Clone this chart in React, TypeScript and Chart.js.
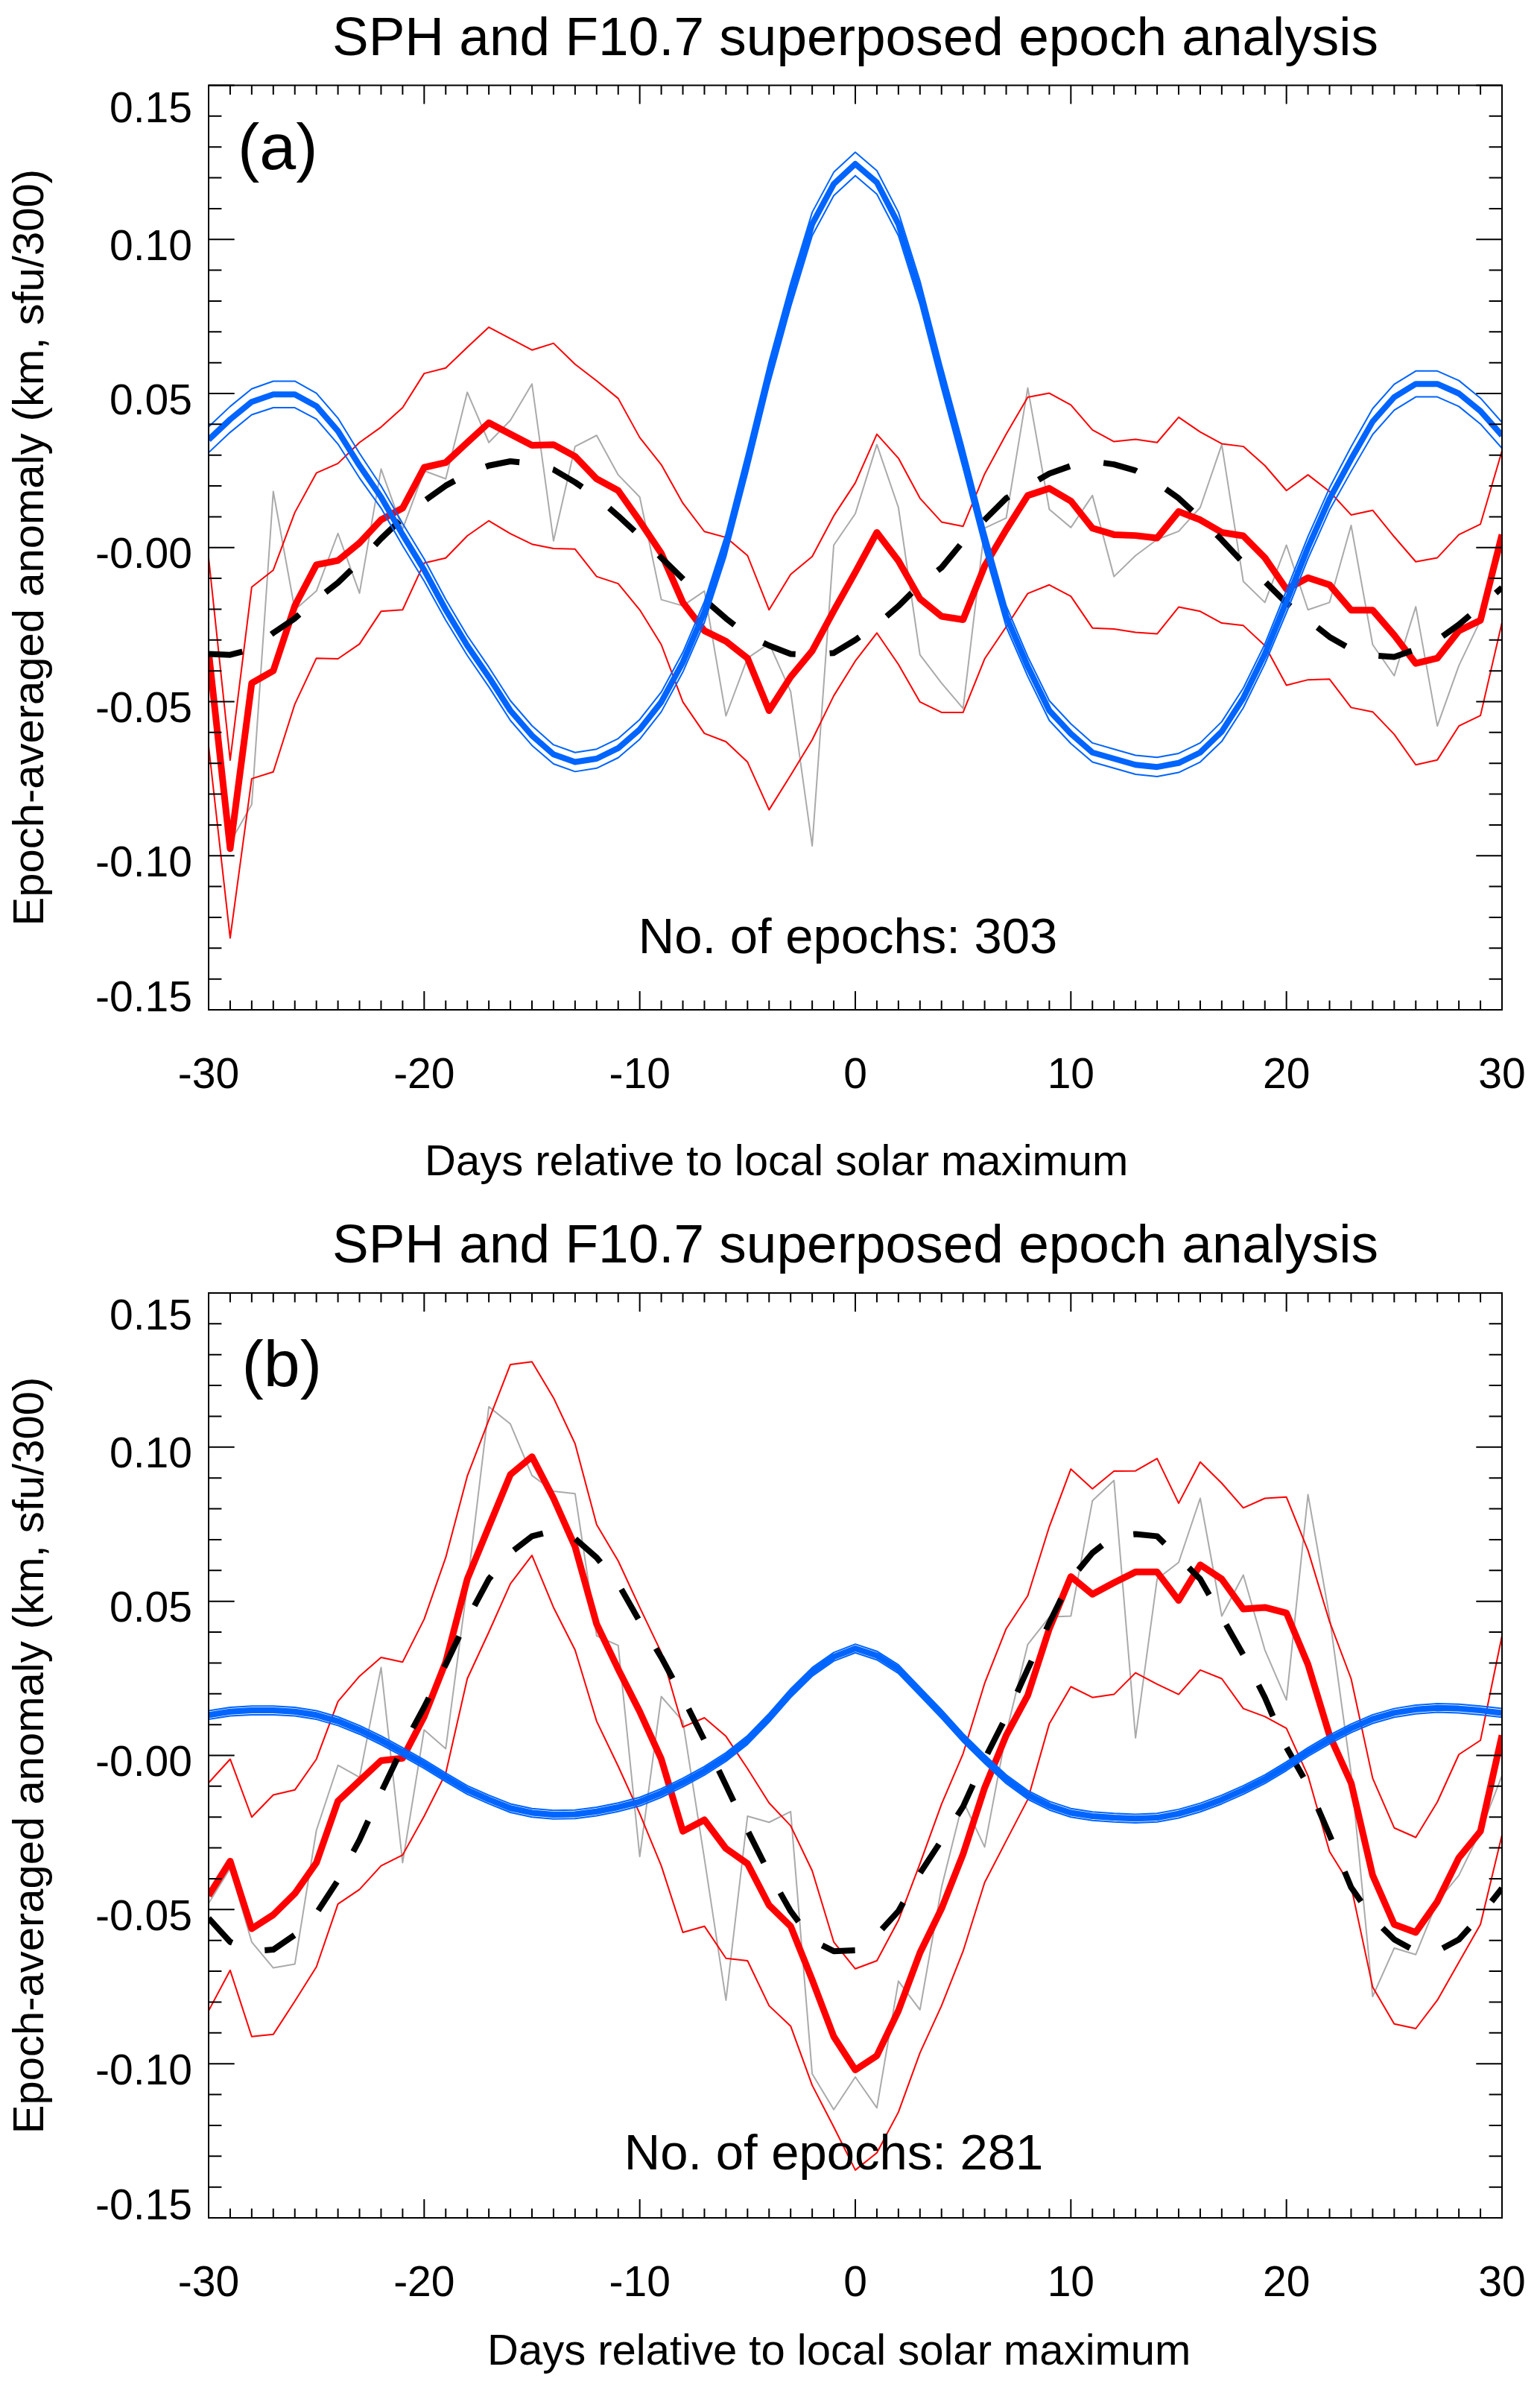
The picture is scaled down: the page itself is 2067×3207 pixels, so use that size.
import { useEffect, useRef } from "react"
import Chart from "chart.js/auto"

// days relative to local solar maximum
const days = [
  -30, -29, -28, -27, -26, -25, -24, -23, -22, -21, -20, -19, -18, -17, -16, -15, -14, -13, -12, -11,
  -10, -9, -8, -7, -6, -5, -4, -3, -2, -1, 0, 1, 2, 3, 4, 5, 6, 7, 8, 9,
  10, 11, 12, 13, 14, 15, 16, 17, 18, 19, 20, 21, 22, 23, 24, 25, 26, 27, 28, 29, 30,
]

const xTickValues = [-30, -20, -10, 0, 10, 20, 30]
const xTickLabels = ["-30", "-20", "-10", "0", "10", "20", "30"]
const yTickValues = [0.15, 0.1, 0.05, 0, -0.05, -0.1, -0.15]
const yTickLabels = ["0.15", "0.10", "0.05", "-0.00", "-0.05", "-0.10", "-0.15"]

// ---- panel (a) ----
const f107A = [
  0.035, 0.0416, 0.0473, 0.0497, 0.0497, 0.0459, 0.0378, 0.0266, 0.0164, 0.0042,
  -0.0073, -0.0202, -0.0318, -0.042, -0.0529, -0.061, -0.0671, -0.0696, -0.0685, -0.0651,
  -0.059, -0.0501, -0.0372, -0.0209, 0.0008, 0.028, 0.0565, 0.082, 0.105, 0.118,
  0.1245,
  0.1185, 0.105, 0.0827, 0.0556, 0.0296, 0.0025, -0.0223, -0.0386, -0.0529, -0.0604,
  -0.0665, -0.0685, -0.0705, -0.0712, -0.0699, -0.0665, -0.0597, -0.0488, -0.0345, -0.0175,
  0.0, 0.0158, 0.0287, 0.0409, 0.0488, 0.0531, 0.0531, 0.05, 0.0443, 0.0364,
]
const f107AUpper = [
  0.0392, 0.0458, 0.0515, 0.054, 0.054, 0.0501, 0.042, 0.0306, 0.02, 0.0078,
  -0.0037, -0.0168, -0.0286, -0.0388, -0.0497, -0.0578, -0.064, -0.0665, -0.0654, -0.062,
  -0.0558, -0.0469, -0.034, -0.0175, 0.0044, 0.0318, 0.0603, 0.0858, 0.1088, 0.1218,
  0.1283,
  0.1223, 0.1088, 0.0865, 0.0594, 0.0334, 0.0061, -0.0189, -0.0354, -0.0497, -0.0572,
  -0.0634, -0.0654, -0.0674, -0.0681, -0.0668, -0.0634, -0.0565, -0.0456, -0.0313, -0.0139,
  0.0036, 0.0194, 0.0327, 0.0451, 0.053, 0.0573, 0.0573, 0.0542, 0.0485, 0.0406,
]
const f107ALower = [
  0.0308, 0.0374, 0.0431, 0.0454, 0.0454, 0.0417, 0.0336, 0.0226, 0.0128, 0.0006,
  -0.0109, -0.0236, -0.035, -0.0452, -0.0561, -0.0642, -0.0702, -0.0727, -0.0716, -0.0682,
  -0.0622, -0.0533, -0.0404, -0.0243, -0.0028, 0.0242, 0.0527, 0.0782, 0.1012, 0.1142,
  0.1207,
  0.1147, 0.1012, 0.0789, 0.0518, 0.0258, -0.0011, -0.0257, -0.0418, -0.0561, -0.0636,
  -0.0696, -0.0716, -0.0736, -0.0743, -0.073, -0.0696, -0.0629, -0.052, -0.0377, -0.0211,
  -0.0036, 0.0122, 0.0247, 0.0367, 0.0446, 0.0489, 0.0489, 0.0458, 0.0401, 0.0322,
]
const sphA = [
  -0.0338, -0.0977, -0.044, -0.04, -0.0189, -0.0056, -0.0042, 0.0015, 0.009, 0.0128,
  0.026, 0.0276, 0.0341, 0.0405, 0.0368, 0.0332, 0.0334, 0.0296, 0.0223, 0.0185,
  0.0086, -0.0019, -0.0178, -0.027, -0.0304, -0.0359, -0.0529, -0.042, -0.0335, -0.0205,
  -0.008,
  0.0049, -0.0043, -0.0166, -0.0223, -0.0234, -0.006, 0.0058, 0.0169, 0.0192, 0.0151,
  0.0063, 0.0042, 0.0039, 0.0031, 0.0117, 0.009, 0.0049, 0.0038, -0.0033, -0.0135,
  -0.0098, -0.0121, -0.0203, -0.0203, -0.0284, -0.0376, -0.0359, -0.027, -0.0236, 0.0042,
]
const sphAUpper = [
  -0.0033, -0.069, -0.0128, -0.0073, 0.0114, 0.0242, 0.0273, 0.0341, 0.0391, 0.0454,
  0.0565, 0.0583, 0.065, 0.0715, 0.0678, 0.0641, 0.0663, 0.0595, 0.0541, 0.0484,
  0.0357, 0.0269, 0.0144, 0.0052, 0.0033, -0.0026, -0.0202, -0.0087, -0.0029, 0.0103,
  0.021,
  0.0368, 0.029, 0.016, 0.0083, 0.0069, 0.0239, 0.0368, 0.0488, 0.0501, 0.0463,
  0.0382, 0.0344, 0.0351, 0.0341, 0.0423, 0.0375, 0.0337, 0.0328, 0.0266, 0.0185,
  0.0236, 0.0182, 0.0106, 0.0121, 0.0035, -0.0046, -0.0033, 0.0042, 0.0076, 0.0314,
]
const sphALower = [
  -0.0644, -0.1267, -0.075, -0.0728, -0.0508, -0.0359, -0.0361, -0.0313, -0.0207, -0.0202,
  -0.005, -0.0034, 0.0038, 0.0087, 0.0045, 0.0011, -0.0003, -0.0005, -0.0094, -0.0117,
  -0.0202, -0.0315, -0.0501, -0.0603, -0.063, -0.0696, -0.0851, -0.0739, -0.0624, -0.0481,
  -0.0368,
  -0.0277, -0.0379, -0.0501, -0.0535, -0.0535, -0.0361, -0.0257, -0.0149, -0.0121, -0.0158,
  -0.0261, -0.0264, -0.0275, -0.028, -0.0193, -0.0207, -0.0245, -0.0253, -0.0318, -0.0447,
  -0.0429, -0.0427, -0.0519, -0.0533, -0.0606, -0.0705, -0.0689, -0.0579, -0.0545, -0.0243,
]
const sphARaw = [
  -0.035, -0.0957, -0.0834, 0.0182, -0.0202, -0.0141, 0.0046, -0.0148, 0.0255, 0.006,
  0.0249, 0.0223, 0.0504, 0.0341, 0.0413, 0.0531, 0.0022, 0.0328, 0.0364, 0.0236,
  0.0164, -0.0169, -0.0189, -0.0141, -0.0546, -0.0359, -0.0311, -0.0467, -0.0968, 0.0008,
  0.011,
  0.0334, 0.013, -0.0348, -0.044, -0.0522, 0.0063, 0.0096, 0.0518, 0.0124, 0.0065,
  0.0169, -0.0094, -0.0026, 0.0026, 0.0053, 0.013, 0.0334, -0.011, -0.0178, 0.0008,
  -0.0202, -0.0178, 0.0072, -0.0315, -0.0416, -0.0192, -0.0579, -0.0383, -0.0236, 0.0,
]
const sphAFit = [
  -0.0345, -0.0348, -0.033, -0.0277, -0.023, -0.0169, -0.0114, -0.0046, 0.0029, 0.0096,
  0.0151, 0.0201, 0.0239, 0.0266, 0.028, 0.0273, 0.0253, 0.0212, 0.0164, 0.0103,
  0.0038, -0.0033, -0.0101, -0.0169, -0.023, -0.0284, -0.0318, -0.0345, -0.0348, -0.0342,
  -0.03,
  -0.025, -0.019, -0.012, -0.0065, 0.002, 0.009, 0.016, 0.02, 0.024, 0.0265,
  0.028, 0.027, 0.025, 0.021, 0.016, 0.0095, 0.0025, -0.005, -0.011, -0.018,
  -0.0235, -0.029, -0.033, -0.035, -0.0355, -0.033, -0.03, -0.025, -0.019, -0.013,
]

// ---- panel (b) ----
const f107B = [
  0.0131, 0.0142, 0.0146, 0.0146, 0.0142, 0.0131, 0.0111, 0.0083, 0.0049, 0.0011,
  -0.0028, -0.0071, -0.0112, -0.0143, -0.0171, -0.0186, -0.0192, -0.0191, -0.0182, -0.0168,
  -0.015, -0.0122, -0.0088, -0.005, -0.0005, 0.005, 0.0122, 0.0202, 0.0271, 0.032,
  0.0347,
  0.0324, 0.028, 0.0207, 0.0134, 0.0057, -0.0012, -0.0077, -0.0128, -0.0163, -0.0186,
  -0.0197, -0.0202, -0.0205, -0.0202, -0.0189, -0.0169, -0.0143, -0.0112, -0.0077, -0.0035,
  0.0011, 0.0052, 0.0088, 0.0118, 0.0138, 0.0149, 0.0154, 0.0152, 0.0146, 0.0138,
]
const f107BUpper = [
  0.0145, 0.0156, 0.016, 0.016, 0.0156, 0.0145, 0.0125, 0.0097, 0.0063, 0.0025,
  -0.0014, -0.0057, -0.0098, -0.0129, -0.0157, -0.0172, -0.0178, -0.0177, -0.0168, -0.0154,
  -0.0136, -0.0108, -0.0074, -0.0036, 0.0009, 0.0064, 0.0136, 0.0216, 0.0285, 0.0334,
  0.0361,
  0.0338, 0.0294, 0.0221, 0.0148, 0.0071, 0.0002, -0.0063, -0.0114, -0.0149, -0.0172,
  -0.0183, -0.0188, -0.0191, -0.0188, -0.0175, -0.0155, -0.0129, -0.0098, -0.0063, -0.0021,
  0.0025, 0.0066, 0.0102, 0.0132, 0.0152, 0.0163, 0.0168, 0.0166, 0.016, 0.0152,
]
const f107BLower = [
  0.0117, 0.0128, 0.0132, 0.0132, 0.0128, 0.0117, 0.0097, 0.0069, 0.0035, -0.0003,
  -0.0042, -0.0085, -0.0126, -0.0157, -0.0185, -0.02, -0.0206, -0.0205, -0.0196, -0.0182,
  -0.0164, -0.0136, -0.0102, -0.0064, -0.0019, 0.0036, 0.0108, 0.0188, 0.0257, 0.0306,
  0.0333,
  0.031, 0.0266, 0.0193, 0.012, 0.0043, -0.0026, -0.0091, -0.0142, -0.0177, -0.02,
  -0.0211, -0.0216, -0.0219, -0.0216, -0.0203, -0.0183, -0.0157, -0.0126, -0.0091, -0.0049,
  -0.0003, 0.0038, 0.0074, 0.0104, 0.0124, 0.0135, 0.014, 0.0138, 0.0132, 0.0124,
]
const sphB = [
  -0.0455, -0.0343, -0.0562, -0.0517, -0.0448, -0.0348, -0.0148, -0.0082, -0.0017, -0.0009,
  0.0126, 0.0303, 0.0572, 0.0742, 0.0911, 0.0969, 0.0834, 0.0677, 0.0426, 0.028,
  0.0142, -0.0012, -0.0246, -0.0209, -0.0302, -0.0351, -0.0486, -0.0554, -0.0728, -0.0912,
  -0.102,
  -0.0974, -0.0828, -0.064, -0.0497, -0.032, -0.0105, 0.0065, 0.0195, 0.0411, 0.058,
  0.0523, 0.056, 0.0595, 0.0595, 0.0503, 0.0618, 0.0572, 0.0475, 0.048, 0.0462,
  0.0295, 0.0065, -0.0089, -0.0389, -0.0548, -0.0574, -0.0474, -0.0332, -0.0246, 0.0065,
]
const sphBUpper = [
  -0.0089, -0.0012, -0.02, -0.0128, -0.0112, -0.0012, 0.0175, 0.0257, 0.0318, 0.0303,
  0.0442, 0.0642, 0.0906, 0.1088, 0.1268, 0.1277, 0.116, 0.1011, 0.0749, 0.0631,
  0.048, 0.0334, 0.0092, 0.0122, 0.0062, -0.0043, -0.0154, -0.0228, -0.0374, -0.0605,
  -0.0692,
  -0.0666, -0.0535, -0.0351, -0.0158, 0.0006, 0.0234, 0.0411, 0.0518, 0.0742, 0.0929,
  0.0865, 0.0922, 0.0923, 0.0963, 0.0818, 0.0952, 0.0883, 0.0803, 0.0834, 0.0838,
  0.0665, 0.0434, 0.0249, -0.0074, -0.0235, -0.0266, -0.0151, 0.0003, 0.0049, 0.0388,
]
const sphBLower = [
  -0.0828, -0.0697, -0.0912, -0.0905, -0.0797, -0.0686, -0.0482, -0.0435, -0.0358, -0.0323,
  -0.0197, -0.0058, 0.0249, 0.04, 0.0557, 0.0649, 0.048, 0.0342, 0.0111, -0.0035,
  -0.0189, -0.0358, -0.0574, -0.0554, -0.0658, -0.0666, -0.0812, -0.0878, -0.107, -0.1205,
  -0.1345,
  -0.1289, -0.1157, -0.0965, -0.0812, -0.0635, -0.0412, -0.0277, -0.0143, 0.0103, 0.0223,
  0.0188, 0.0198, 0.0268, 0.0231, 0.0198, 0.0277, 0.0249, 0.0152, 0.0126, 0.0088,
  -0.0066, -0.0312, -0.0425, -0.0751, -0.0871, -0.0886, -0.0794, -0.0671, -0.0548, -0.0258,
]
const sphBRaw = [
  -0.048, -0.0366, -0.0605, -0.0689, -0.0677, -0.0243, -0.0032, -0.0071, 0.0285, -0.0348,
  0.0083, 0.0022, 0.055, 0.1131, 0.1075, 0.0908, 0.0857, 0.0849, 0.0388, 0.0357,
  -0.0328, 0.0191, 0.0111, -0.0335, -0.0794, -0.0197, -0.0217, -0.0182, -0.1033, -0.1149,
  -0.1043,
  -0.1143, -0.0732, -0.0825, -0.0428, -0.0148, -0.0297, 0.0072, 0.036, 0.0449, 0.0452,
  0.0826, 0.0892, 0.0057, 0.0572, 0.0626, 0.0834, 0.0452, 0.0585, 0.0342, 0.018,
  0.0846, 0.0449, -0.0058, -0.0782, -0.0625, -0.0646, -0.0474, -0.0389, -0.0246, -0.0065,
]
const sphBFit = [
  -0.0528, -0.0605, -0.0635, -0.063, -0.0582, -0.0512, -0.0405, -0.0274, -0.012, 0.0026,
  0.0157, 0.0295, 0.0442, 0.0572, 0.0657, 0.0711, 0.0729, 0.0703, 0.0642, 0.0557,
  0.0434, 0.0318, 0.0188, 0.0049, -0.0097, -0.0243, -0.0382, -0.0505, -0.06, -0.0635,
  -0.0632,
  -0.0582, -0.0505, -0.0382, -0.0275, -0.0166, -0.0012, 0.0126, 0.028, 0.043, 0.0572,
  0.0657, 0.0711, 0.0718, 0.0711, 0.0642, 0.0572, 0.0449, 0.0326, 0.0188, 0.0026,
  -0.0097, -0.0258, -0.0428, -0.0528, -0.0597, -0.0635, -0.0635, -0.0597, -0.052, -0.0431,
]

const TITLE = "SPH and F10.7 superposed epoch analysis"
const X_TITLE = "Days relative to local solar maximum"
const Y_TITLE = "Epoch-averaged anomaly (km, sfu/300)"

const RED = "#ff0000"
const BLUE = "#0064ff"
const GRAY = "#aaaaaa"
const FONT = '"Liberation Sans", Arial, Helvetica, sans-serif'

type PanelProps = {
  height: number
  padTop: number
  padBottom: number
  label: string
  labelX: number
  labelY: number
  epochs: string
  epochsX: number
  epochsY: number
  xTitleX: number
  xTitleY: number
  f107: number[]
  f107Upper: number[]
  f107Lower: number[]
  sph: number[]
  sphUpper: number[]
  sphLower: number[]
  sphRaw: number[]
  sphFit: number[]
}

// IDL-style frame: inward ticks on all four sides, labels and annotations
const idlFrame = {
  id: "idlFrame",
  afterDraw(chart: any, _args: any, opts: any) {
    const { ctx, chartArea, scales } = chart
    const xs = scales.x
    const ys = scales.y
    const { left, right, top, bottom } = chartArea
    ctx.save()
    ctx.strokeStyle = "#000"
    ctx.fillStyle = "#000"
    ctx.lineWidth = 2
    ctx.lineCap = "butt"
    ctx.strokeRect(left, top, right - left, bottom - top)

    ctx.beginPath()
    for (const d of days) {
      const px = xs.getPixelForValue(d)
      const len = d % 10 === 0 ? 25 : 12.5
      ctx.moveTo(px, bottom)
      ctx.lineTo(px, bottom - len)
      ctx.moveTo(px, top)
      ctx.lineTo(px, top + len)
    }
    for (let i = -15; i <= 15; i++) {
      const py = ys.getPixelForValue(i / 100)
      const len = i % 5 === 0 ? 34.7 : 17.4
      ctx.moveTo(left, py)
      ctx.lineTo(left + len, py)
      ctx.moveTo(right, py)
      ctx.lineTo(right - len, py)
    }
    ctx.stroke()

    ctx.textBaseline = "alphabetic"
    ctx.font = `57px ${FONT}`
    ctx.textAlign = "center"
    xTickValues.forEach((v, i) => {
      ctx.fillText(xTickLabels[i], xs.getPixelForValue(v), bottom + 105)
    })
    ctx.textAlign = "right"
    yTickValues.forEach((v, i) => {
      const py = ys.getPixelForValue(v)
      let off = 27.6
      if (i === 0) off = 49
      if (i === yTickValues.length - 1) off = 1.5
      ctx.fillText(yTickLabels[i], 258, py + off)
    })

    ctx.font = `73px ${FONT}`
    ctx.textAlign = "center"
    ctx.fillText(TITLE, (left + right) / 2, top - 41)

    ctx.font = `58px ${FONT}`
    ctx.textAlign = "left"
    ctx.fillText(X_TITLE, opts.xTitleX, opts.xTitleY)

    ctx.save()
    ctx.translate(58, (top + bottom) / 2)
    ctx.rotate(-Math.PI / 2)
    ctx.textAlign = "center"
    ctx.fillText(Y_TITLE, 0, 0)
    ctx.restore()

    ctx.font = `88px ${FONT}`
    ctx.textAlign = "left"
    ctx.fillText(opts.label, opts.labelX, opts.labelY)

    ctx.font = `67px ${FONT}`
    ctx.textAlign = "center"
    ctx.fillText(opts.epochs, opts.epochsX, opts.epochsY)
    ctx.restore()
  },
}

function series(values: number[], color: string, width: number, order: number, dash: number[] = []) {
  return {
    data: days.map((d, i) => ({ x: d, y: values[i] })),
    borderColor: color,
    borderWidth: width,
    borderDash: dash,
    borderJoinStyle: "round" as const,
    pointRadius: 0,
    tension: 0,
    fill: false,
    order,
  }
}

function EpochPanel(p: PanelProps) {
  const canvasRef = useRef<HTMLCanvasElement>(null)

  useEffect(() => {
    if (!canvasRef.current) return
    const chart = new Chart(canvasRef.current, {
      type: "line",
      data: {
        datasets: [
          series(p.f107, BLUE, 8, 0),
          series(p.f107Upper, BLUE, 2, 1),
          series(p.f107Lower, BLUE, 2, 1),
          series(p.sphFit, "#000000", 8, 2, [46, 46]),
          series(p.sph, RED, 9, 3),
          series(p.sphUpper, RED, 2, 4),
          series(p.sphLower, RED, 2, 4),
          series(p.sphRaw, GRAY, 2, 5),
        ],
      },
      options: {
        responsive: false,
        animation: false,
        devicePixelRatio: 1,
        layout: { padding: { left: 280, right: 51, top: p.padTop, bottom: p.padBottom } },
        scales: {
          x: { type: "linear", min: -30, max: 30, display: false },
          y: { type: "linear", min: -0.15, max: 0.15, display: false },
        },
        plugins: {
          legend: { display: false },
          tooltip: { enabled: false },
          idlFrame: {
            label: p.label,
            labelX: p.labelX,
            labelY: p.labelY,
            epochs: p.epochs,
            epochsX: p.epochsX,
            epochsY: p.epochsY,
            xTitleX: p.xTitleX,
            xTitleY: p.xTitleY,
          },
        } as any,
      },
      plugins: [idlFrame],
    })
    return () => chart.destroy()
  }, [])

  return (
    <canvas
      ref={canvasRef}
      width={2067}
      height={p.height}
      style={{ display: "block", width: 2067, height: p.height }}
    />
  )
}

export default function App() {
  useEffect(() => {
    document.body.style.margin = "0"
  }, [])

  return (
    <div style={{ position: "absolute", left: 0, top: 0, width: 2067, height: 3207, background: "#fff" }}>
      <EpochPanel
        height={1620}
        padTop={114.5}
        padBottom={265}
        label="(a)"
        labelX={319}
        labelY={226.5}
        epochs="No. of epochs: 303"
        epochsX={1138}
        epochsY={1278.5}
        xTitleX={570}
        xTitleY={1577}
        f107={f107A}
        f107Upper={f107AUpper}
        f107Lower={f107ALower}
        sph={sphA}
        sphUpper={sphAUpper}
        sphLower={sphALower}
        sphRaw={sphARaw}
        sphFit={sphAFit}
      />
      <EpochPanel
        height={1587}
        padTop={115}
        padBottom={231}
        label="(b)"
        labelX={324.5}
        labelY={240}
        epochs="No. of epochs: 281"
        epochsX={1119}
        epochsY={1291.4}
        xTitleX={654}
        xTitleY={1553.4}
        f107={f107B}
        f107Upper={f107BUpper}
        f107Lower={f107BLower}
        sph={sphB}
        sphUpper={sphBUpper}
        sphLower={sphBLower}
        sphRaw={sphBRaw}
        sphFit={sphBFit}
      />
    </div>
  )
}
